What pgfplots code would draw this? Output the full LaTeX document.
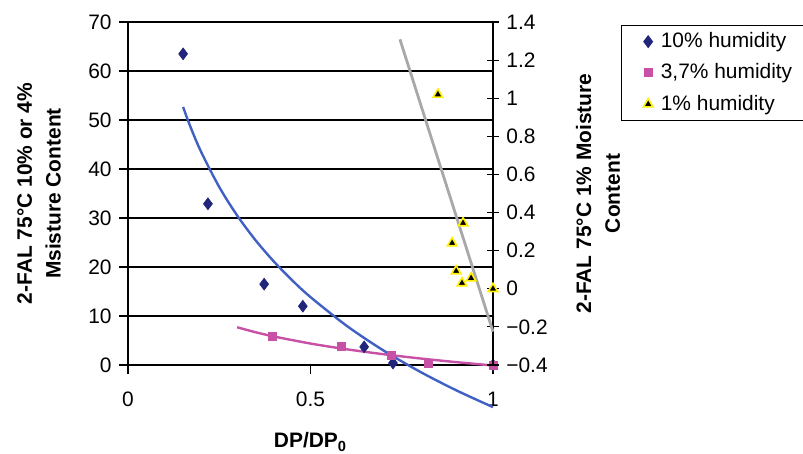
\documentclass[border=0pt]{standalone}
\usepackage{fontspec}
\setmainfont{Liberation Sans}
\usepackage{pgfplots}
\pgfplotsset{compat=1.18}
\definecolor{navyd}{RGB}{34,38,122}
\definecolor{trendblue}{RGB}{64,96,196}
\definecolor{pinkm}{RGB}{200,80,165}
\definecolor{grayl}{RGB}{168,168,168}
\definecolor{yell}{RGB}{255,240,0}
\begin{document}
\fontsize{10.5}{14.5}\selectfont
\begin{tikzpicture}
\path[use as bounding box] (-64bp,-44.5bp) rectangle (337.5bp,182.5bp);
\begin{axis}[
  at={(0,0)}, anchor=south west,
  scale only axis, width=182.5bp, height=171.5bp,
  xmin=0, xmax=1, ymin=0, ymax=70,
  axis x line*=bottom, axis y line*=left,
  axis line style={-, black, line width=0.6pt},
  xtick={0,0.5,1}, xticklabels={0,0.5,1},
  ytick={0,10,20,30,40,50,60,70},
  tick align=outside, major tick length=4.5bp,
  tick style={black, line width=0.6pt},
  ymajorgrids, grid style={black, line width=0.6pt},
  xticklabel style={yshift=-5.5bp},
  /pgf/number format/assume math mode=true,
  ticklabel style={font=\fontsize{10.5}{12}\selectfont},
  clip=false,
  xlabel={DP/DP\textsubscript{0}},
  ylabel={2-FAL 75°C 10\% or 4\%\\Msisture Content},
  every axis x label/.style={at={(axis description cs:0.5,0)}, yshift=-38.5bp, anchor=center, font=\bfseries\fontsize{10.5}{14.5}\selectfont},
  every axis y label/.style={at={(axis description cs:-0.2438,0.5)}, anchor=center, rotate=90, align=center, font=\bfseries\fontsize{10.5}{14.5}\selectfont},
]
% 10% humidity points
\addplot[only marks, mark=diamond*, mark size=2.9bp, color=navyd] coordinates {
(0.151,63.5) (0.219,32.9) (0.373,16.5) (0.479,12.0) (0.647,3.7) (0.726,0.4) (1.0,0.0)};
% 3,7% humidity points
\addplot[only marks, mark=square*, mark size=2.0bp, color=pinkm] coordinates {
(0.395,5.9) (0.586,3.7) (0.721,2.0) (0.822,0.4) (1.0,0.0)};
% pink trendline
\addplot[pinkm, line width=1.2bp, smooth, forget plot] coordinates {
(0.299,7.7) (0.35,6.68) (0.4,5.82) (0.5,4.38) (0.6,3.20) (0.7,2.20) (0.8,1.34) (0.9,0.58) (1.0,-0.1)};
% blue trendline
\addplot[trendblue, line width=1.2bp, smooth, forget plot] coordinates {
(0.151,52.65) (0.17,48.81) (0.2,43.55) (0.25,36.32) (0.3,30.41) (0.35,25.41) (0.4,21.09) (0.45,17.27) (0.5,13.86) (0.6,7.95) (0.7,2.96) (0.8,-1.37) (0.9,-5.19) (1.0,-8.6)};
\end{axis}
\begin{axis}[
  at={(0,0)}, anchor=south west,
  scale only axis, width=182.5bp, height=171.5bp,
  xmin=0, xmax=1, ymin=-0.4, ymax=1.4,
  axis x line=none, axis y line*=right,
  axis line style={-, black, line width=0.6pt},
  ytick={-0.4,-0.2,0,0.2,0.4,0.6,0.8,1,1.2,1.4},
  yticklabels={−0.4,−0.2,0,0.2,0.4,0.6,0.8,1,1.2,1.4},
  tick align=center, major tick length=6bp,
  tick style={black, line width=0.6pt},
  ticklabel style={font=\fontsize{10.5}{12}\selectfont},
  clip=false,
  ylabel={2-FAL 75°C 1\% Moisture\\Content},
  every axis y label/.style={at={(axis description cs:1.2877,0.5)}, anchor=center, rotate=90, align=center, font=\bfseries\fontsize{10.5}{14.5}\selectfont},
  legend style={at={(axis description cs:1,1)}, anchor=north west, xshift=64bp, yshift=-1.5bp,
    draw=black, line width=0.5pt, fill=white, inner xsep=11bp, inner ysep=1.5bp, row sep=2.5bp,
    font=\fontsize{10.5}{12}\selectfont, column sep=2bp},
  legend cell align=left,
]
\addlegendimage{only marks, mark=diamond*, mark size=2.9bp, color=navyd}
\addlegendentry{\makebox[80bp][l]{10\% humidity}}
\addlegendimage{only marks, mark=square*, mark size=2.0bp, color=pinkm}
\addlegendentry{\makebox[80bp][l]{3,7\% humidity}}
\addplot[only marks, mark=triangle*, mark size=2.7bp, mark options={fill=black, draw=yell, line width=0.8bp}] coordinates {
(0.849,1.02) (0.918,0.345) (0.888,0.24) (0.899,0.093) (0.915,0.03) (0.940,0.056) (1.0,0.0)};
\addlegendentry{\makebox[80bp][l]{1\% humidity}\rule[-6.5bp]{0pt}{1pt}}
\addplot[grayl, line width=1.4bp, forget plot] coordinates {(0.745,1.309) (1.0,-0.225)};
\end{axis}
\end{tikzpicture}
\end{document}
